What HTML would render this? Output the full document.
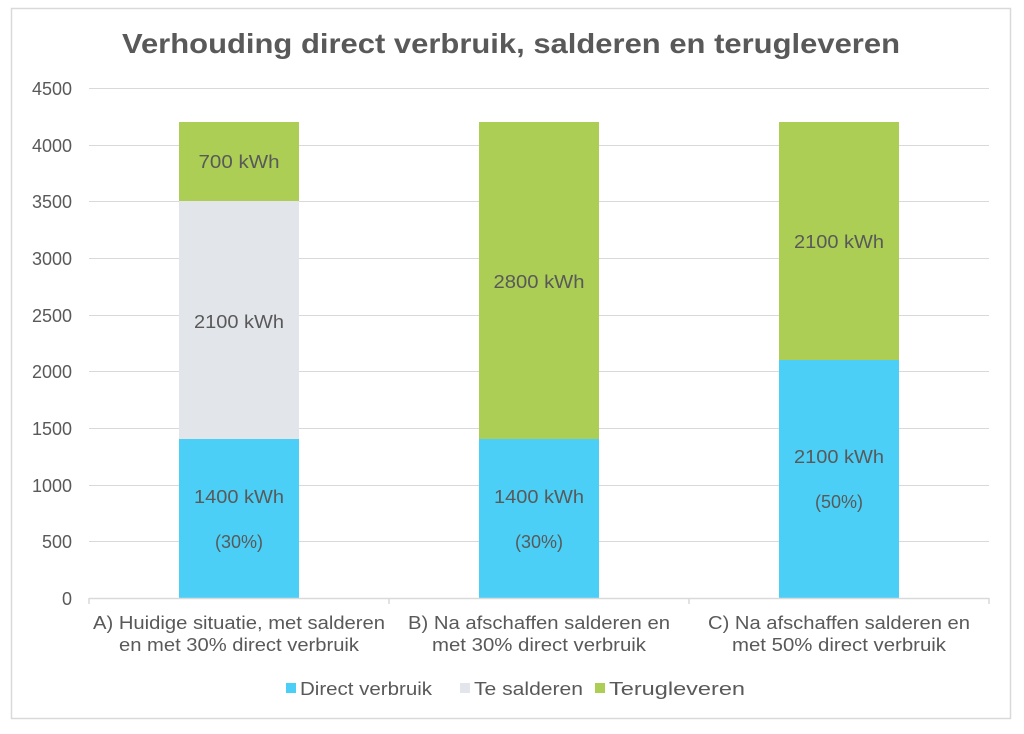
<!DOCTYPE html>
<html><head><meta charset="utf-8"><style>
body{margin:0;background:#fff;}
svg text{font-family:"Liberation Sans",sans-serif;fill:#595959;}
</style></head><body>
<svg width="1024" height="729" xmlns="http://www.w3.org/2000/svg">
<rect x="11.5" y="8.5" width="999" height="710" fill="#fff" stroke="#d9d9d9" stroke-width="1.5"/>
<text x="122" y="53" font-size="28" font-weight="bold" textLength="778" lengthAdjust="spacingAndGlyphs">Verhouding direct verbruik, salderen en terugleveren</text>
<g stroke="#d9d9d9" stroke-width="1">
<line x1="89" y1="88.5" x2="989" y2="88.5"/>
<line x1="89" y1="145.5" x2="989" y2="145.5"/>
<line x1="89" y1="201.5" x2="989" y2="201.5"/>
<line x1="89" y1="258.5" x2="989" y2="258.5"/>
<line x1="89" y1="315.5" x2="989" y2="315.5"/>
<line x1="89" y1="371.5" x2="989" y2="371.5"/>
<line x1="89" y1="428.5" x2="989" y2="428.5"/>
<line x1="89" y1="485.5" x2="989" y2="485.5"/>
<line x1="89" y1="541.5" x2="989" y2="541.5"/>
</g>
<g font-size="18" text-anchor="end">
<text x="72" y="95">4500</text><text x="72" y="152">4000</text><text x="72" y="208">3500</text>
<text x="72" y="265">3000</text><text x="72" y="322">2500</text><text x="72" y="378">2000</text>
<text x="72" y="435">1500</text><text x="72" y="492">1000</text><text x="72" y="548">500</text>
<text x="72" y="605">0</text>
</g>
<rect x="179" y="122" width="120" height="79" fill="#acce55"/>
<rect x="179" y="201" width="120" height="238" fill="#e2e6ea"/>
<rect x="179" y="439" width="120" height="159" fill="#4bcff7"/>
<rect x="479" y="122" width="120" height="317" fill="#acce55"/>
<rect x="479" y="439" width="120" height="159" fill="#4bcff7"/>
<rect x="779" y="122" width="120" height="238" fill="#acce55"/>
<rect x="779" y="360" width="120" height="238" fill="#4bcff7"/>
<g stroke="#d9d9d9" stroke-width="1.5">
<line x1="89" y1="598.5" x2="989" y2="598.5"/>
<line x1="89" y1="598" x2="89" y2="604"/><line x1="389" y1="598" x2="389" y2="604"/>
<line x1="689" y1="598" x2="689" y2="604"/><line x1="989" y1="598" x2="989" y2="604"/>
</g>
<g font-size="18" text-anchor="middle">
<text x="239" y="168" textLength="81" lengthAdjust="spacingAndGlyphs">700 kWh</text>
<text x="239" y="328" textLength="90" lengthAdjust="spacingAndGlyphs">2100 kWh</text>
<text x="239" y="503" textLength="90" lengthAdjust="spacingAndGlyphs">1400 kWh</text><text x="239" y="548">(30%)</text>
<text x="539" y="288" textLength="91" lengthAdjust="spacingAndGlyphs">2800 kWh</text>
<text x="539" y="503" textLength="90" lengthAdjust="spacingAndGlyphs">1400 kWh</text><text x="539" y="548">(30%)</text>
<text x="839" y="248" textLength="90" lengthAdjust="spacingAndGlyphs">2100 kWh</text>
<text x="839" y="463" textLength="90" lengthAdjust="spacingAndGlyphs">2100 kWh</text><text x="839" y="508">(50%)</text>
<text x="239" y="629" textLength="292" lengthAdjust="spacingAndGlyphs">A) Huidige situatie, met salderen</text>
<text x="239" y="651" textLength="240" lengthAdjust="spacingAndGlyphs">en met 30% direct verbruik</text>
<text x="539" y="629" textLength="262" lengthAdjust="spacingAndGlyphs">B) Na afschaffen salderen en</text>
<text x="539" y="651" textLength="214" lengthAdjust="spacingAndGlyphs">met 30% direct verbruik</text>
<text x="839" y="629" textLength="262" lengthAdjust="spacingAndGlyphs">C) Na afschaffen salderen en</text>
<text x="839" y="651" textLength="214" lengthAdjust="spacingAndGlyphs">met 50% direct verbruik</text>
</g>
<g font-size="18">
<rect x="286" y="683" width="10" height="10" fill="#4bcff7"/><text x="300" y="695" textLength="132" lengthAdjust="spacingAndGlyphs">Direct verbruik</text>
<rect x="460" y="683" width="10" height="10" fill="#e2e6ea"/><text x="474" y="695" textLength="109" lengthAdjust="spacingAndGlyphs">Te salderen</text>
<rect x="595" y="683" width="10" height="10" fill="#acce55"/><text x="609" y="695" textLength="136" lengthAdjust="spacingAndGlyphs">Terugleveren</text>
</g>
</svg>
</body></html>
